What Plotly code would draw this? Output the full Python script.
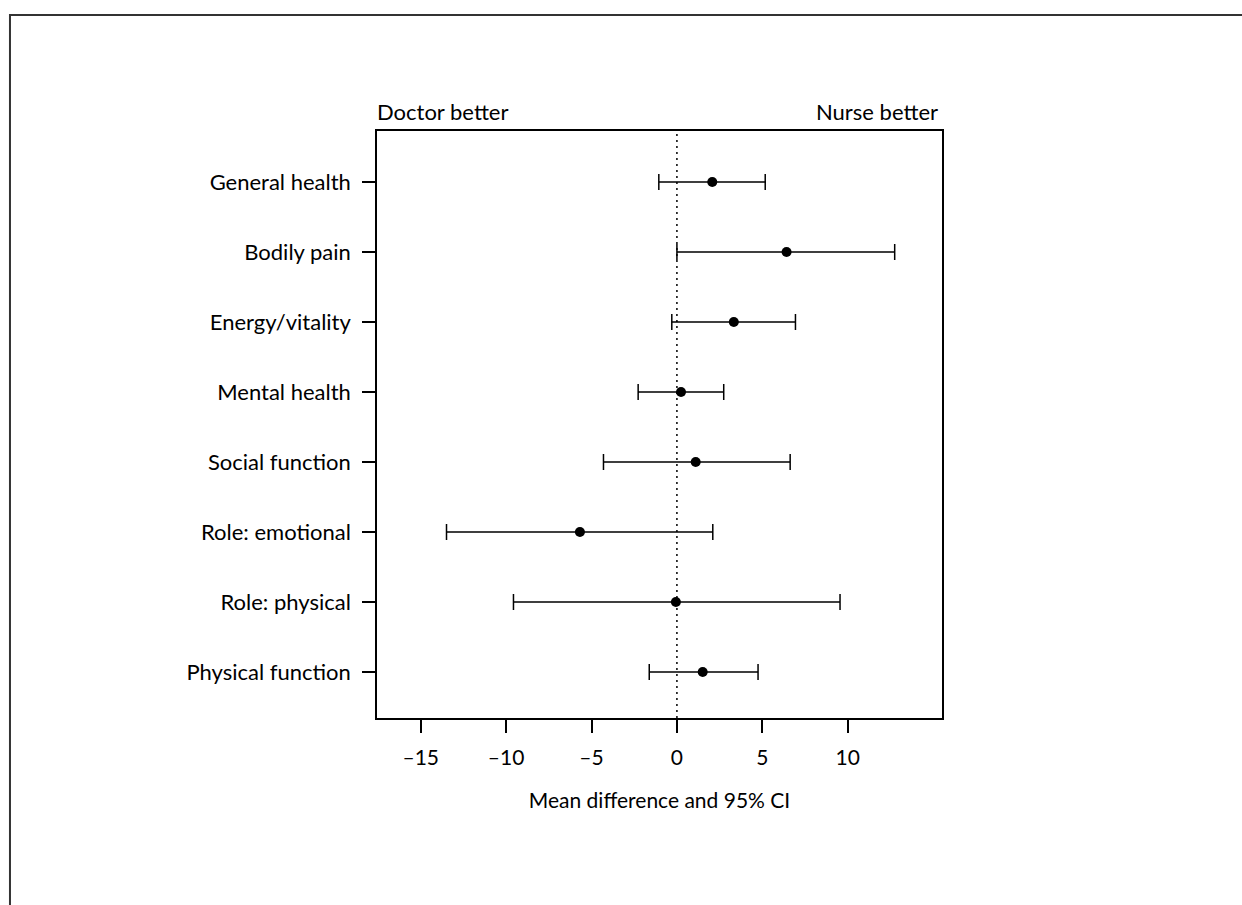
import plotly.graph_objects as go

# Data (bottom to top)
categories = ["Physical function", "Role: physical", "Role: emotional", "Social function",
              "Mental health", "Energy/vitality", "Bodily pain", "General health"]
mean_diff = [1.51, -0.06, -5.68, 1.10, 0.24, 3.33, 6.42, 2.07]
ci_low = [-1.62, -9.57, -13.49, -4.30, -2.27, -0.30, 0.0, -1.06]
ci_high = [4.75, 9.55, 2.10, 6.63, 2.74, 6.94, 12.75, 5.17]
x_ticks = [-15, -10, -5, 0, 5, 10]
x_tick_text = ["\u201315", "\u201310", "\u20135", "0", "5", "10"]

FONT = "Lato, 'Open Sans', sans-serif"

err_plus = [h - m for h, m in zip(ci_high, mean_diff)]
err_minus = [m - l for m, l in zip(mean_diff, ci_low)]

fig = go.Figure()
fig.add_trace(go.Scatter(
    x=mean_diff, y=categories, mode="markers",
    marker=dict(color="black", size=10),
    error_x=dict(type="data", symmetric=False, array=err_plus, arrayminus=err_minus,
                 color="black", thickness=1.5, width=8),
    showlegend=False, hoverinfo="x+y",
))

# reference line at zero
fig.add_shape(type="line", xref="x", yref="paper", x0=0, x1=0, y0=0, y1=1,
              line=dict(color="black", width=1.5, dash="2px,4px"), layer="below")

# outer frame
fig.add_shape(type="rect", xref="paper", yref="paper",
              x0=-0.6496, x1=1.56, y0=-0.35, y1=1.1976,
              line=dict(color="#333333", width=2))

fig.add_annotation(text="Doctor better", xref="paper", yref="paper", x=-0.004, y=1.034,
                   xanchor="left", yanchor="middle", showarrow=False,
                   font=dict(size=22, color="black", family=FONT))
fig.add_annotation(text="Nurse better", xref="paper", yref="paper", x=0.997, y=1.034,
                   xanchor="right", yanchor="middle", showarrow=False,
                   font=dict(size=22, color="black", family=FONT))

fig.update_layout(
    width=1242, height=905,
    margin=dict(l=377, r=300, t=131, b=187, autoexpand=False),
    paper_bgcolor="white", plot_bgcolor="white",
    font=dict(family=FONT, size=21, color="black"),
    xaxis=dict(range=[-17.56, 15.52], tickvals=x_ticks, ticktext=x_tick_text,
               showgrid=False, zeroline=False, showline=True, mirror=True,
               linecolor="black", linewidth=1.5, ticks="outside", ticklen=13,
               tickwidth=1.5, tickcolor="black", ticklabelstandoff=7,
               tickfont=dict(size=21, family=FONT),
               title=dict(text="Mean difference and 95% CI", standoff=25,
                          font=dict(size=21, family=FONT))),
    yaxis=dict(type="category", categoryorder="array", categoryarray=categories,
               range=[-0.657, 7.729], showgrid=False, zeroline=False, showline=True,
               mirror=True, linecolor="black", linewidth=1.5, ticks="outside",
               ticklen=13, tickwidth=1.5, tickcolor="black", ticklabelstandoff=7,
               tickfont=dict(size=22, family=FONT)),
)

fig.write_html("out.html")
